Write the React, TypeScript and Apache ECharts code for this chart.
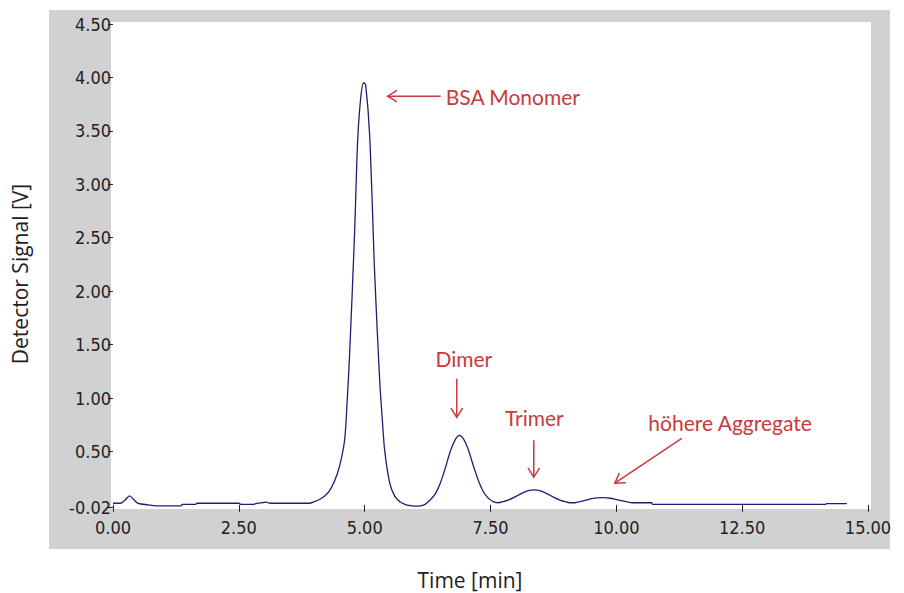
import React, { useEffect, useRef } from "react";
import * as echarts from "echarts";

const timeMin = [
  0.0, 0.15, 0.24, 0.33, 0.42, 0.5, 0.7, 0.85, 1.35, 1.38, 1.64, 1.67, 2.5, 2.54, 2.8, 2.84, 2.98, 3.05, 3.12,
  3.9, 4.0, 4.1, 4.2, 4.3, 4.4, 4.5, 4.6, 4.65, 4.7, 4.8, 4.86, 4.92, 4.98, 5.02, 5.1, 5.2, 5.3, 5.35, 5.4, 5.5,
  5.6, 5.7, 5.8, 5.9, 6.0, 6.1, 6.2, 6.3, 6.4, 6.5, 6.6, 6.7, 6.8, 6.88, 6.96, 7.05, 7.15, 7.25, 7.35, 7.45,
  7.55, 7.65, 7.75, 7.85, 7.95, 8.05, 8.15, 8.25, 8.37, 8.48, 8.58, 8.68, 8.78, 8.88, 8.98, 9.08, 9.18, 9.28,
  9.4, 9.52, 9.62, 9.75, 9.88, 10.0, 10.1, 10.2, 10.32, 10.7, 10.72, 14.15, 14.18, 14.58,
];
const signalV = [
  0.015, 0.015, 0.045, 0.085, 0.045, 0.015, 0.0, -0.01, -0.01, 0.005, 0.005, 0.015, 0.015, 0.005, 0.005, 0.012,
  0.022, 0.025, 0.015, 0.015, 0.03, 0.05, 0.08, 0.13, 0.22, 0.36, 0.6, 0.95, 1.4, 2.55, 3.4, 3.8, 3.95, 3.93,
  3.45, 2.15, 1.15, 0.8, 0.5, 0.2, 0.08, 0.03, 0.005, -0.008, -0.012, -0.01, 0.005, 0.045, 0.1, 0.2, 0.34, 0.5,
  0.61, 0.65, 0.62, 0.53, 0.38, 0.24, 0.13, 0.065, 0.03, 0.02, 0.03, 0.045, 0.065, 0.09, 0.115, 0.133, 0.14,
  0.133, 0.115, 0.09, 0.065, 0.045, 0.03, 0.02, 0.02, 0.03, 0.045, 0.058, 0.065, 0.067, 0.062, 0.05, 0.04,
  0.03, 0.02, 0.02, 0.005, 0.005, 0.012, 0.012,
];

const xMin = 0;
const xMax = 15;
const xInterval = 2.5;
const yTickValues = [-0.02, 0.5, 1.0, 1.5, 2.0, 2.5, 3.0, 3.5, 4.0, 4.5];

const xTitle = "Time [min]";
const yTitle = "Detector Signal [V]";

// annotations in data coordinates (time, signal)
const annotationLabels = ["BSA Monomer", "Dimer", "Trimer", "höhere Aggregate"];
const annotationTextAt = [
  [6.61, 3.825],
  [6.97, 1.367],
  [8.37, 0.818],
  [12.26, 0.771],
];
const annotationAlign = ["left", "center", "center", "center"];
const arrowFrom = [
  [6.51, 3.825],
  [6.83, 1.18],
  [8.36, 0.604],
  [11.3, 0.622],
];
const arrowTo = [
  [5.457, 3.825],
  [6.83, 0.818],
  [8.36, 0.259],
  [9.97, 0.203],
];

const RED = "#c93a3c";
const TICK_FONT = "'Liberation Sans Narrow', 'DejaVu Sans Condensed', Arial, sans-serif";

export default function App() {
  const ref = useRef<HTMLDivElement>(null);
  useEffect(() => {
    if (!ref.current) return;
    const chart = echarts.init(ref.current, null, { renderer: "svg" });
    const data = timeMin.map((t, i) => [t, signalV[i]]);
    const fmt = (v: number) => v.toFixed(2);
    chart.setOption({
      animation: false,
      backgroundColor: "#ffffff",
      grid: {
        left: 113,
        right: 36,
        top: 24,
        bottom: 86,
        show: true,
        backgroundColor: "#ffffff",
        borderWidth: 0,
      },
      xAxis: {
        type: "value",
        min: xMin,
        max: xMax,
        interval: xInterval,
        axisLine: { show: false },
        splitLine: { show: false },
        axisTick: { show: true, length: 7, lineStyle: { color: "#222", width: 1 } },
        axisLabel: {
          formatter: fmt,
          color: "#222",
          fontFamily: TICK_FONT,
          fontSize: 18,
          margin: 11,
          showMinLabel: true,
          showMaxLabel: true,
        },
      },
      yAxis: {
        type: "value",
        min: -0.02,
        max: 4.5,
        axisLine: { show: false },
        splitLine: { show: false },
        axisTick: {
          show: true,
          length: 5,
          customValues: yTickValues,
          lineStyle: { color: "#222", width: 1 },
        },
        axisLabel: {
          customValues: yTickValues,
          formatter: fmt,
          color: "#222",
          fontFamily: TICK_FONT,
          fontSize: 18,
          margin: 2,
        },
      },
      series: [
        {
          type: "line",
          data,
          showSymbol: false,
          smooth: 0.3,
          lineStyle: { color: "#1e1e72", width: 1.3 },
          z: 3,
        },
      ],
      graphic: [
        {
          id: "panel",
          type: "rect",
          z: -2,
          shape: { x: 49, y: 10, width: 841, height: 539 },
          style: { fill: "#d1d1d1" },
          silent: true,
        },
        {
          id: "plotbg",
          type: "rect",
          z: -1,
          shape: { x: 111, y: 22, width: 760, height: 487 },
          style: { fill: "#ffffff" },
          silent: true,
        },
        {
          id: "ytitle",
          type: "text",
          x: 20,
          y: 274,
          rotation: Math.PI / 2,
          style: {
            text: yTitle,
            fontFamily: "'Open Sans', sans-serif",
            fontSize: 21,
            fill: "#222",
            align: "center",
            verticalAlign: "middle",
          },
        },
        {
          id: "xtitle",
          type: "text",
          x: 470,
          y: 580,
          style: {
            text: xTitle,
            fontFamily: "'Open Sans', sans-serif",
            fontSize: 21,
            fill: "#222",
            align: "center",
            verticalAlign: "middle",
          },
        },
      ],
    });

    const px = (p: number[]) => chart.convertToPixel({ gridIndex: 0 }, p) as number[];
    const extra: any[] = [];
    annotationLabels.forEach((label, i) => {
      const tp = px(annotationTextAt[i]);
      extra.push({
        id: "ann" + i,
        type: "text",
        x: tp[0],
        y: tp[1],
        z: 10,
        style: {
          text: label,
          fontFamily: "Lato, 'Open Sans', sans-serif",
          fontSize: 21,
          fill: RED,
          align: annotationAlign[i],
          verticalAlign: "middle",
        },
      });
      const a = px(arrowFrom[i]);
      const b = px(arrowTo[i]);
      extra.push({
        id: "shaft" + i,
        type: "line",
        z: 10,
        shape: { x1: a[0], y1: a[1], x2: b[0], y2: b[1] },
        style: { stroke: RED, lineWidth: 1.5 },
      });
      const dx = b[0] - a[0];
      const dy = b[1] - a[1];
      const len = Math.hypot(dx, dy);
      const ux = dx / len;
      const uy = dy / len;
      const L = 11;
      const ang = (32 * Math.PI) / 180;
      const rot = (c: number, s: number) => [ux * c - uy * s, ux * s + uy * c];
      const r1 = rot(Math.cos(ang), Math.sin(ang));
      const r2 = rot(Math.cos(ang), -Math.sin(ang));
      extra.push({
        id: "head" + i,
        type: "polyline",
        z: 10,
        shape: {
          points: [
            [b[0] - L * r1[0], b[1] - L * r1[1]],
            [b[0], b[1]],
            [b[0] - L * r2[0], b[1] - L * r2[1]],
          ],
        },
        style: { stroke: RED, lineWidth: 1.5, fill: "none" },
      });
    });
    chart.setOption({ graphic: extra });

    return () => chart.dispose();
  }, []);
  return (
    <div
      ref={ref}
      style={{ position: "fixed", left: 0, top: 0, width: 904, height: 593 }}
    />
  );
}
